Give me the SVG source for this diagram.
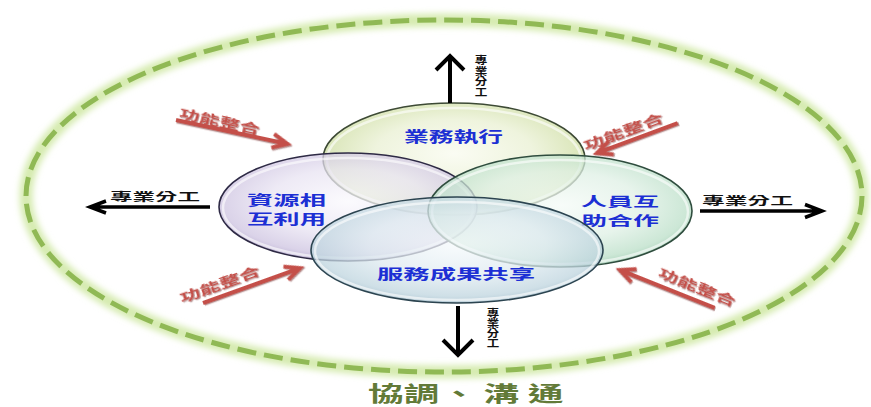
<svg xmlns="http://www.w3.org/2000/svg" width="871" height="407" viewBox="0 0 871 407">
<defs>
<style>
.cjk{font-family:"Noto Sans CJK TC","Noto Sans CJK SC",sans-serif;font-weight:700}
.blue{fill:#1c2fd4;font-size:15px}
.blk{fill:#111;font-size:11px}
.vert{writing-mode:vertical-rl}
.red{fill:#c4504a;font-size:12px}
.bub{stroke-width:1.6;fill-opacity:0.75}
.rim{fill:none;stroke:#fff;stroke-opacity:0.6;stroke-width:2.5}
.arr{fill:none;stroke:#000;stroke-width:4}
.rarr{fill:none;stroke:#c4504a;stroke-width:4}
</style>
<filter id="glow" x="-5%" y="-10%" width="110%" height="120%"><feGaussianBlur stdDeviation="3"/></filter>
<filter id="sh" x="-20%" y="-50%" width="140%" height="200%"><feDropShadow dx="1" dy="1.2" stdDeviation="0.6" flood-color="#6b1d1a" flood-opacity="0.5"/></filter>
<radialGradient id="gTop" cx="50%" cy="45%" r="55%">
<stop offset="0" stop-color="#f9fbef"/><stop offset="0.55" stop-color="#e9f0d2"/><stop offset="0.88" stop-color="#cfdea4"/><stop offset="1" stop-color="#b3c97e"/>
</radialGradient>
<radialGradient id="gLeft" cx="50%" cy="45%" r="55%">
<stop offset="0" stop-color="#faf9fd"/><stop offset="0.55" stop-color="#e8e3f2"/><stop offset="0.88" stop-color="#cec4e1"/><stop offset="1" stop-color="#b0a3cc"/>
</radialGradient>
<radialGradient id="gRight" cx="50%" cy="45%" r="55%">
<stop offset="0" stop-color="#f5fbf7"/><stop offset="0.55" stop-color="#dff0e5"/><stop offset="0.88" stop-color="#bbdfc8"/><stop offset="1" stop-color="#96c8ab"/>
</radialGradient>
<radialGradient id="gBot" cx="50%" cy="45%" r="55%">
<stop offset="0" stop-color="#f6fafc"/><stop offset="0.55" stop-color="#deeaf0"/><stop offset="0.88" stop-color="#bfd5df"/><stop offset="1" stop-color="#9fbccb"/>
</radialGradient>
</defs>
<rect width="871" height="407" fill="#fff"/>

<g id="ring">
<ellipse cx="444" cy="196" rx="418" ry="176" fill="none" stroke="#d6ebb0" stroke-width="13" filter="url(#glow)"/>
<ellipse cx="444" cy="196" rx="418" ry="176" fill="none" stroke="#90b955" stroke-width="5" stroke-dasharray="19 8"/>
</g>

<g id="node-top">
<ellipse class="bub" cx="454" cy="159" rx="131" ry="56" fill="url(#gTop)" stroke="#3d4a35"/>
<ellipse class="rim" cx="454" cy="160" rx="127" ry="52"/>
<text class="cjk blue" x="404" y="142" textLength="99" lengthAdjust="spacingAndGlyphs">業務執行</text>
</g>

<g id="node-left">
<ellipse class="bub" cx="348" cy="207" rx="129" ry="54" fill="url(#gLeft)" stroke="#2e2a45"/>
<ellipse class="rim" cx="348" cy="208" rx="125" ry="50"/>
<text class="cjk blue" x="247" y="204.5" textLength="79" lengthAdjust="spacingAndGlyphs" style="font-size:13.5px">資源相</text>
<text class="cjk blue" x="247" y="224" textLength="79" lengthAdjust="spacingAndGlyphs" style="font-size:13.5px">互利用</text>
</g>

<g id="node-right">
<ellipse class="bub" cx="560" cy="211" rx="132" ry="56" fill="url(#gRight)" stroke="#2f4d3e"/>
<ellipse class="rim" cx="560" cy="212" rx="128" ry="52"/>
<text class="cjk blue" x="581" y="206" textLength="78" lengthAdjust="spacingAndGlyphs" style="font-size:13px">人員互</text>
<text class="cjk blue" x="581" y="225" textLength="78" lengthAdjust="spacingAndGlyphs" style="font-size:13px">助合作</text>
</g>

<g id="node-bottom">
<ellipse class="bub" cx="457" cy="250" rx="146" ry="53" fill="url(#gBot)" stroke="#2c4450"/>
<ellipse class="rim" cx="457" cy="251" rx="142" ry="49"/>
<text class="cjk blue" x="377" y="279" textLength="158" lengthAdjust="spacingAndGlyphs" style="font-size:14px">服務成果共享</text>
</g>

<g id="connectors">
<path class="arr" d="M450,103 V58 M436,70 L450,56 L464,70"/>
<path class="arr" d="M458,306 V353 M443,340 L458,355 L473,340"/>
<path class="arr" d="M210,207 H92 M106,201 L90,207 L106,213" style="stroke-width:3.5"/>
<path class="arr" d="M700,211 H820 M805,204.5 L822,211 L805,217.5" style="stroke-width:3.5"/>

<g transform="translate(176,120) rotate(12.1)" filter="url(#sh)">
<path class="rarr" d="M0,0 H112 M99,-7 L114,0 L99,7"/>
<text class="cjk red" x="2" y="-3" textLength="82" lengthAdjust="spacingAndGlyphs">功能整合</text>
</g>
<g transform="translate(597,153) rotate(-20.3)" filter="url(#sh)">
<path class="rarr" d="M86,0 H2 M15,-7 L0,0 L15,7"/>
<text class="cjk red" x="-10" y="-6" textLength="84" lengthAdjust="spacingAndGlyphs">功能整合</text>
</g>
<g transform="translate(203,303) rotate(-19.8)" filter="url(#sh)">
<path class="rarr" d="M0,0 H101 M88,-7 L103,0 L88,7"/>
<text class="cjk red" x="-20" y="-7" textLength="84" lengthAdjust="spacingAndGlyphs">功能整合</text>
</g>
<g transform="translate(620,270) rotate(21.8)" filter="url(#sh)">
<path class="rarr" d="M102,0 H2 M15,-7 L0,0 L15,7"/>
<text class="cjk red" x="37" y="-8" textLength="82" lengthAdjust="spacingAndGlyphs">功能整合</text>
</g>
</g>

<g id="labels">
<text class="cjk blk" x="110" y="201" textLength="90" lengthAdjust="spacingAndGlyphs">專業分工</text>
<text class="cjk blk" x="702" y="205" textLength="91" lengthAdjust="spacingAndGlyphs">專業分工</text>
<g transform="translate(481,0) scale(1.2,1)">
<text class="cjk blk vert" x="0" y="55" style="font-size:10.5px">專業分工</text>
</g>
<g transform="translate(493,0) scale(1.25,1)">
<text class="cjk blk vert" x="0" y="308" style="font-size:10px">專業分工</text>
</g>
<g transform="translate(368,0) scale(1.7,1)">
<text class="cjk" x="0 21 43 68 94" y="401" style="font-size:21px;fill:#627a38">協調、溝通</text>
</g>
</g>
</svg>
